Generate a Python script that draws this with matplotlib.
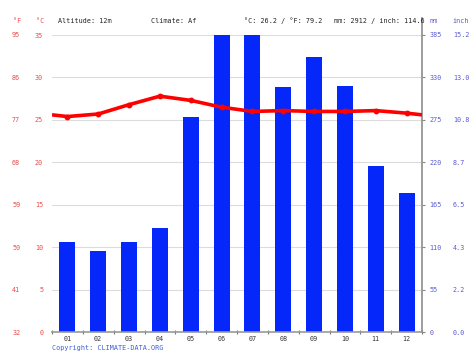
import matplotlib
matplotlib.use('Agg')
import matplotlib.pyplot as plt

months = ['01', '02', '03', '04', '05', '06', '07', '08', '09', '10', '11', '12']
temp_c = [25.4, 25.7, 26.8, 27.8, 27.3, 26.5, 26.0, 26.1, 26.0, 26.0, 26.1, 25.8]
precip_mm = [117, 105, 117, 135, 279, 385, 385, 318, 357, 319, 216, 180]

c_ticks = [0, 5, 10, 15, 20, 25, 30, 35]
mm_ticks = [0, 55, 110, 165, 220, 275, 330, 385]

red = '#ec4a4c'
blue_txt = '#5a5ad2'
font = 'DejaVu Sans Mono'
fs = 4.9
plt.rcParams['font.family'] = font

W, H = 474, 355
fig = plt.figure(figsize=(W / 100, H / 100), dpi=100)
ax = fig.add_axes([52 / W, (H - 332.3) / H, 370 / W, 297.3 / H])
ax2 = ax.twinx()
ax.set_zorder(ax2.get_zorder() + 1)
ax.patch.set_visible(False)

x = list(range(12))

# precipitation bars
ax2.bar(x, precip_mm, width=0.52, color='#0527fa', zorder=2)
ax2.set_ylim(0, 385)
ax2.set_yticks(mm_ticks)
ax2.yaxis.grid(True, color='#dcdcdc', lw=0.8, zorder=0)
ax2.set_axisbelow(True)
ax2.tick_params(axis='y', colors='#888888', labelcolor=blue_txt, labelsize=fs,
                length=2, width=0.8, pad=3.5)
for s in ['top', 'left', 'bottom', 'right']:
    ax2.spines[s].set_visible(False)
ax2.plot([1, 1], [0, 1.057], transform=ax2.transAxes, color='#8c8c8c', lw=1.2,
         clip_on=False, zorder=5)

inch = ax2.secondary_yaxis('right', functions=(lambda m: m / 25.4, lambda i: i * 25.4))
inch.set_yticks([m / 25.4 for m in mm_ticks])
inch.set_yticklabels(['%.1f' % (m / 25.4) for m in mm_ticks])
inch.tick_params(length=0, pad=22.3, labelsize=fs, labelcolor=blue_txt)
inch.spines['right'].set_visible(False)

# temperature line
edge = (temp_c[0] + temp_c[-1]) / 2
ax.plot([-0.5] + x + [11.5], [edge] + temp_c + [edge], color='#ff0000', lw=2.6,
        solid_capstyle='butt', zorder=4)
ax.plot(x, temp_c, 'o', color='#ff0000', ms=3.2, zorder=5)
ax.set_xlim(-0.5, 11.5)
ax.set_ylim(0, 35)
ax.set_yticks(c_ticks)
ax.tick_params(axis='y', length=0, pad=6.3, labelsize=fs, labelcolor=red)
ax.set_xticks(x)
ax.set_xticklabels(months)
ax.set_xticks([i - 0.5 for i in range(13)], minor=True)
ax.tick_params(axis='x', which='major', length=0, pad=3, labelsize=fs, labelcolor='#333333')
ax.tick_params(axis='x', which='minor', direction='inout', length=3, width=0.8, color='#777777')
for s in ['top', 'left', 'right']:
    ax.spines[s].set_visible(False)
ax.spines['bottom'].set_color('#999999')
ax.spines['bottom'].set_linewidth(1.2)

fahr = ax.secondary_yaxis('left', functions=(lambda c: c * 9 / 5 + 32, lambda f: (f - 32) * 5 / 9))
fahr.set_yticks([c * 9 / 5 + 32 for c in c_ticks])
fahr.set_yticklabels(['%d' % round(c * 9 / 5 + 32) for c in c_ticks])
fahr.tick_params(length=0, pad=22.8, labelsize=fs, labelcolor=red)
fahr.spines['left'].set_visible(False)

# header texts
def ftext(px, py, s, color='#222222', ha='left'):
    fig.text(px / W, 1 - py / H, s, color=color, fontsize=fs, ha=ha, va='center', family=font)

ftext(21.3, 21, '°F', red, ha='right')
ftext(44.5, 21, '°C', red, ha='right')
ftext(58, 21, 'Altitude: 12m')
ftext(151, 21, 'Climate: Af')
ftext(244, 21, '°C: 26.2 / °F: 79.2')
ftext(334.5, 21, 'mm: 2912 / inch: 114.6')
ftext(429.3, 21, 'mm', blue_txt)
ftext(452.7, 21, 'inch', blue_txt)
ftext(52, 348, 'Copyright: CLIMATE-DATA.ORG', '#3a5fd8')

fig.savefig('out.png', dpi=100)
